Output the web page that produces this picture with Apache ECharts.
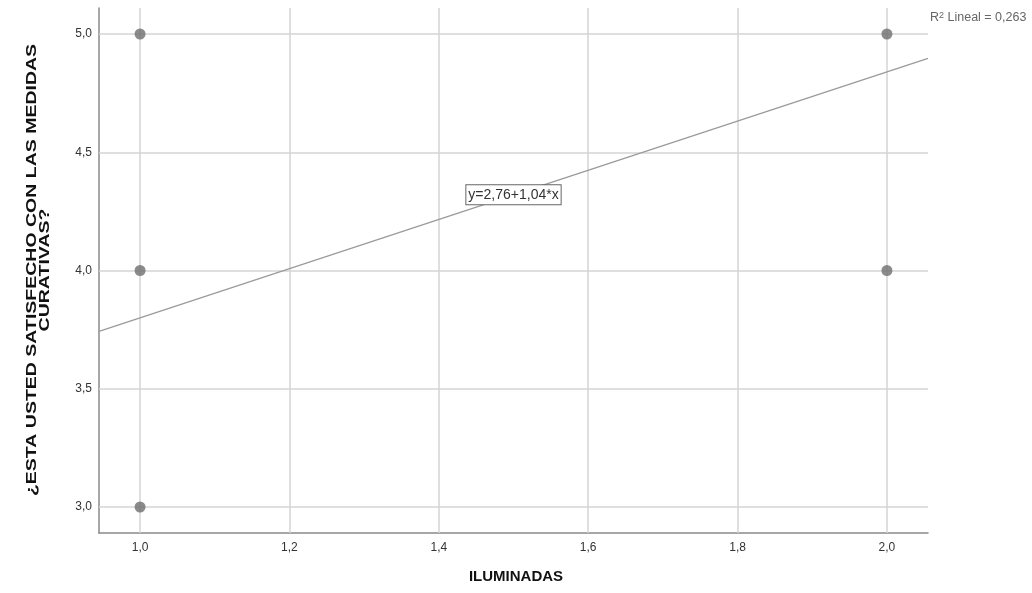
<!DOCTYPE html>
<html>
<head>
<meta charset="utf-8">
<script src="https://cdn.jsdelivr.net/npm/echarts@6/dist/echarts.min.js"></script>
<style>html,body{margin:0;padding:0;background:#fff}#c{width:1032px;height:593px}</style>
</head>
<body>
<div id="c"></div>
<script>
// Data
var xValues = [1, 1, 1, 2, 2];
var yValues = [5, 4, 3, 5, 4];
var xTicks = [1.0, 1.2, 1.4, 1.6, 1.8, 2.0];
var yTicks = [3.0, 3.5, 4.0, 4.5, 5.0];
var intercept = [2.76];
var slope = [1.04];
var rSquared = ['0,263'];
var xTitle = 'ILUMINADAS';
var yTitle = '¿ESTA USTED SATISFECHO CON LAS MEDIDAS\nCURATIVAS?';

var xMin = 0.945, xMax = 2.055, yMin = 2.89, yMax = 5.11;
function fmt(v){ return v.toFixed(1).replace('.', ','); }
function fmt2(v){ return v.toFixed(2).replace('.', ','); }

var points = xValues.map(function(x,i){ return [x, yValues[i]]; });
var fit = function(x){ return intercept[0] + slope[0]*x; };
var lineData = [[xMin, fit(xMin)], [xMax, fit(xMax)]];
var labelX = 1.5;

var gridStyle = {color:'#d4d4d4', width:1.5, type:'solid'};
var FF = '"Liberation Sans", Arial, sans-serif';

var chart = echarts.init(document.getElementById('c'), null, {renderer:'canvas'});
chart.setOption({
  animation:false,
  backgroundColor:'#fff',
  textStyle:{fontFamily:FF},
  grid:{left:99, right:104, top:8, bottom:60, containLabel:false},
  xAxis:{
    type:'value', min:xMin, max:xMax,
    axisLine:{show:true, onZero:false, lineStyle:{color:'#8a8a8a', width:1.5}},
    axisTick:{show:false, customValues:xTicks},
    splitLine:{show:false},
    axisLabel:{customValues:xTicks, formatter:fmt, color:'#333', fontSize:12, margin:9, fontFamily:FF}
  },
  yAxis:{
    type:'value', min:yMin, max:yMax,
    axisLine:{show:true, onZero:false, lineStyle:{color:'#8a8a8a', width:1.5}},
    axisTick:{show:false, customValues:yTicks},
    splitLine:{show:false},
    axisLabel:{customValues:yTicks, formatter:fmt, color:'#333', fontSize:12, margin:7, fontFamily:FF}
  },
  series:[
    {
      type:'line', data:[], silent:true, z:1,
      markLine:{
        silent:true, symbol:['none','none'], animation:false, z:1,
        label:{show:false},
        lineStyle:gridStyle,
        data: xTicks.map(function(v){return {xAxis:v};}).concat(yTicks.map(function(v){return {yAxis:v};}))
      }
    },
    {
      type:'line', data:lineData, showSymbol:false, silent:true, z:3,
      lineStyle:{color:'#9a9a9a', width:1.2},
      markPoint:{
        silent:true, symbol:'rect', symbolSize:0, z:4,
        data:[{coord:[labelX, fit(labelX)]}],
        label:{
          show:true, position:'inside',
          formatter:'y=' + fmt2(intercept[0]) + '+' + fmt2(slope[0]) + '*x',
          color:'#333', fontSize:14, backgroundColor:'#fff',
          borderColor:'#666', borderWidth:1, padding:[3,2,2,2], fontFamily:FF
        }
      }
    },
    {
      type:'scatter', data:points, symbol:'circle', symbolSize:11, z:5,
      itemStyle:{color:'#6e6e6e'}
    }
  ],
  graphic:[
    {type:'text', left:'center', top:569, style:{text:xTitle, fill:'#111', font:'bold 15px ' + FF, textAlign:'center'}},
    {type:'text', x:38, y:270, rotation:Math.PI/2, scaleX:1.3,
      style:{text:yTitle, fill:'#111', font:'bold 15px ' + FF, align:'center', verticalAlign:'middle', textAlign:'center', textVerticalAlign:'middle', lineHeight:13}},
    {type:'text', x:930, y:11,
      style:{text:'R{sup|2} Lineal = ' + rSquared[0], fill:'#666', font:'12.5px ' + FF,
        rich:{sup:{fontSize:9, verticalAlign:'top', fill:'#666', padding:[0,0,5,0]}}}}
  ]
});
</script>
</body>
</html>
